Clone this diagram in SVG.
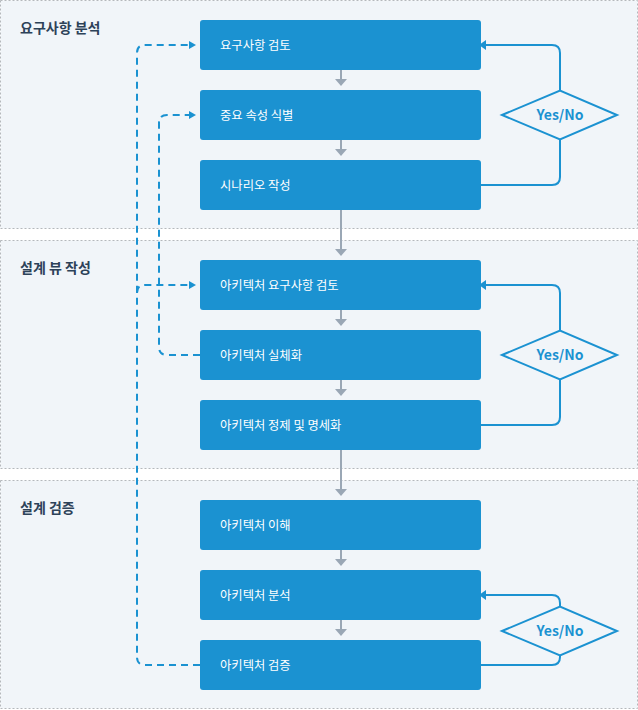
<svg xmlns="http://www.w3.org/2000/svg" width="638" height="710" viewBox="0 0 638 710">
<defs>
<style>
.panel{fill:#f1f5f9;stroke:#b4b8bc;stroke-width:1;stroke-dasharray:2 2}
.title{font-family:"Noto Sans CJK KR","Noto Sans",sans-serif;font-size:14px;font-weight:700;fill:#2d4259}
.box{fill:#1b92d1}
.label{font-family:"Noto Sans CJK KR","Noto Sans",sans-serif;font-size:12.3px;fill:#ffffff}
.dia{fill:#f1f5f9;stroke:#1b92d1;stroke-width:2}
.yn{font-family:"Noto Sans CJK KR","Noto Sans",sans-serif;font-size:14px;font-weight:700;fill:#1b92d1;text-anchor:middle}
.flow{fill:none;stroke:#9aa7b5;stroke-width:2}
.loop{fill:none;stroke:#1b92d1;stroke-width:2}
.dash{fill:none;stroke:#1b92d1;stroke-width:2;stroke-dasharray:7 5}
</style>
<marker id="gray" markerUnits="userSpaceOnUse" markerWidth="14" markerHeight="10" viewBox="0 0 14 10" refX="7" refY="1" orient="0"><path d="M1 1 L13 1 L7 8 Z" fill="#9aa7b5"/></marker>
<marker id="blue" markerUnits="userSpaceOnUse" markerWidth="10" markerHeight="12" viewBox="0 0 10 12" refX="1" refY="6" orient="auto"><path d="M1 1 L8 6 L1 11 Z" fill="#1b92d1"/></marker>
<marker id="blueS" markerUnits="userSpaceOnUse" markerWidth="10" markerHeight="10" viewBox="0 0 10 10" refX="1" refY="5" orient="auto"><path d="M1 1 L8 5 L1 9 Z" fill="#1b92d1"/></marker>
</defs>
<rect width="638" height="710" fill="#ffffff"/>
<g id="section-1">
<rect class="panel" x="0.5" y="0.5" width="637" height="228"/>
<text class="title" x="20" y="33">요구사항 분석</text>
</g>
<g id="section-2">
<rect class="panel" x="0.5" y="240.5" width="637" height="228"/>
<text class="title" x="20" y="273">설계 뷰 작성</text>
</g>
<g id="section-3">
<rect class="panel" x="0.5" y="480.5" width="637" height="228"/>
<text class="title" x="20" y="513">설계 검증</text>
</g>
<g id="connectors">
<path class="flow" d="M341 70 V79" marker-end="url(#gray)"/>
<path class="flow" d="M341 140 V149" marker-end="url(#gray)"/>
<path class="flow" d="M341 210 V249" marker-end="url(#gray)"/>
<path class="flow" d="M341 310 V319" marker-end="url(#gray)"/>
<path class="flow" d="M341 380 V389" marker-end="url(#gray)"/>
<path class="flow" d="M341 450 V489" marker-end="url(#gray)"/>
<path class="flow" d="M341 550 V559" marker-end="url(#gray)"/>
<path class="flow" d="M341 620 V629" marker-end="url(#gray)"/>
<path class="loop" d="M560 90 V53 Q560 45 552 45 H486" marker-end="url(#blue)"/>
<path class="loop" d="M560 140 V177 Q560 185 552 185 H481"/>
<path class="loop" d="M560 330 V293 Q560 285 552 285 H486" marker-end="url(#blue)"/>
<path class="loop" d="M560 380 V417 Q560 425 552 425 H481"/>
<path class="loop" d="M560 607 V603 Q560 595 552 595 H486" marker-end="url(#blue)"/>
<path class="loop" d="M560 655 V657 Q560 665 552 665 H481"/>
<path class="dash" d="M200 665 H145 Q137 665 137 657 V53 Q137 45 145 45 H189" marker-end="url(#blueS)"/>
<path class="dash" d="M137 293 Q137 285 145 285 H189" marker-end="url(#blueS)"/>
<path class="dash" d="M200 355 H167 Q159 355 159 347 V123 Q159 115 167 115 H189" marker-end="url(#blueS)"/>
</g>
<g id="node-1"><rect class="box" x="200" y="20" width="281" height="50" rx="3"/><text class="label" x="220" y="49.5">요구사항 검토</text></g>
<g id="node-2"><rect class="box" x="200" y="90" width="281" height="50" rx="3"/><text class="label" x="220" y="119.5">중요 속성 식별</text></g>
<g id="node-3"><rect class="box" x="200" y="160" width="281" height="50" rx="3"/><text class="label" x="220" y="189.5">시나리오 작성</text></g>
<g id="node-4"><rect class="box" x="200" y="260" width="281" height="50" rx="3"/><text class="label" x="220" y="289.5">아키텍처 요구사항 검토</text></g>
<g id="node-5"><rect class="box" x="200" y="330" width="281" height="50" rx="3"/><text class="label" x="220" y="359.5">아키텍처 실체화</text></g>
<g id="node-6"><rect class="box" x="200" y="400" width="281" height="50" rx="3"/><text class="label" x="220" y="429.5">아키텍처 정제 및 명세화</text></g>
<g id="node-7"><rect class="box" x="200" y="500" width="281" height="50" rx="3"/><text class="label" x="220" y="529.5">아키텍처 이해</text></g>
<g id="node-8"><rect class="box" x="200" y="570" width="281" height="50" rx="3"/><text class="label" x="220" y="599.5">아키텍처 분석</text></g>
<g id="node-9"><rect class="box" x="200" y="640" width="281" height="50" rx="3"/><text class="label" x="220" y="669.5">아키텍처 검증</text></g>
<g id="decision-1"><polygon class="dia" points="502,115 560,90.5 617,115 560,139.5"/><text class="yn" x="560" y="120">Yes/No</text></g>
<g id="decision-2"><polygon class="dia" points="502,355 560,330.5 617,355 560,379.5"/><text class="yn" x="560" y="360">Yes/No</text></g>
<g id="decision-3"><polygon class="dia" points="502,631 560,606.5 617,631 560,655.5"/><text class="yn" x="560" y="636">Yes/No</text></g>
</svg>
